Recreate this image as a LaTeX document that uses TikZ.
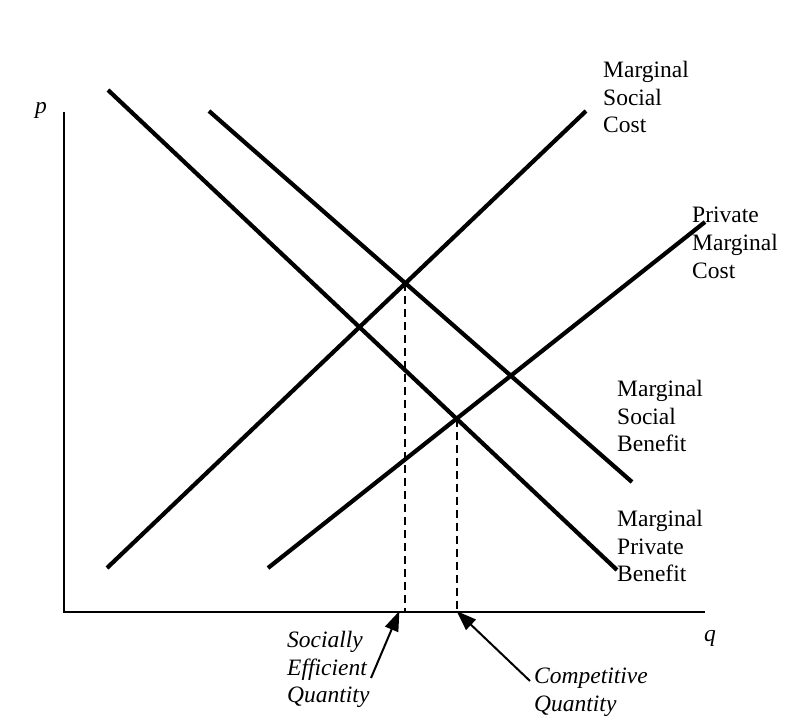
\documentclass[tikz,border=0pt]{standalone}
\usepackage{fontspec}
\setmainfont{Liberation Serif}
\usetikzlibrary{arrows.meta,intersections}

\tikzset{
  curve/.style={line width=4.2pt},
  axis/.style={line width=2.6pt},
  guide/.style={line width=2pt, dash pattern=on 8pt off 5pt},
  curvelabel/.style={anchor=north west, inner sep=0pt, align=left,
                     font=\fontsize{23.5}{27.7}\selectfont},
  qtylabel/.style={curvelabel, font=\fontsize{23.5}{27.7}\selectfont\itshape},
  pointer/.style={-{Triangle[length=20pt,width=14pt]}, line width=2pt}
}

\begin{document}
\begin{tikzpicture}[x=1pt,y=-1pt]
  \useasboundingbox (0,0) rectangle (801,718);

  % Axes
  \coordinate (origin) at (64,612);
  \coordinate (ptop) at (64,112);
  \coordinate (qend) at (705,612);
  \draw[axis] (ptop) -- (origin) -- (qend);
  \node[font=\fontsize{23.5}{27.7}\selectfont\itshape] (plabel) at (41,110) {p};
  \node[font=\fontsize{23.5}{27.7}\selectfont\itshape] (qlabel) at (710,638) {q};

  % Supply and demand curves
  \coordinate (msc-lo) at (107,568);
  \coordinate (msc-hi) at (586,111);
  \coordinate (pmc-lo) at (268,568);
  \coordinate (pmc-hi) at (705,222);
  \coordinate (msb-hi) at (209,111);
  \coordinate (msb-lo) at (632,482);
  \coordinate (mpb-hi) at (108,90);
  \coordinate (mpb-lo) at (617,570);
  \draw[curve, name path=msc] (msc-lo) -- (msc-hi);
  \draw[curve, name path=pmc] (pmc-lo) -- (pmc-hi);
  \draw[curve, name path=msb] (msb-hi) -- (msb-lo);
  \draw[curve, name path=mpb] (mpb-hi) -- (mpb-lo);

  % Curve labels
  \node[curvelabel] (msclabel) at (603,61) {Marginal\\Social\\Cost};
  \node[curvelabel] (pmclabel) at (692,207) {Private\\Marginal\\Cost};
  \node[curvelabel] (msblabel) at (617,380) {Marginal\\Social\\Benefit};
  \node[curvelabel] (mpblabel) at (617,510) {Marginal\\Private\\Benefit};

  % Equilibria dropped to the q axis
  \path[name intersections={of=msc and msb, by=eff}];
  \path[name intersections={of=pmc and mpb, by=comp}];
  \coordinate (effq) at (eff |- origin);
  \coordinate (compq) at (comp |- origin);
  \draw[guide] (eff) -- (effq);
  \draw[guide] (comp) -- (compq);

  % Quantity labels
  \node[qtylabel] (efflabel) at (287,631) {Socially\\Efficient\\Quantity};
  \node[qtylabel] (complabel) at (534,668) {Competitive\\Quantity};
  \coordinate (efftail) at (371,678);
  \coordinate (comptail) at (530,681);
  \draw[pointer] (efftail) -- ([xshift=-6pt,yshift=1pt]effq);
  \draw[pointer] (comptail) -- ([yshift=1pt]compq);
\end{tikzpicture}
\end{document}
